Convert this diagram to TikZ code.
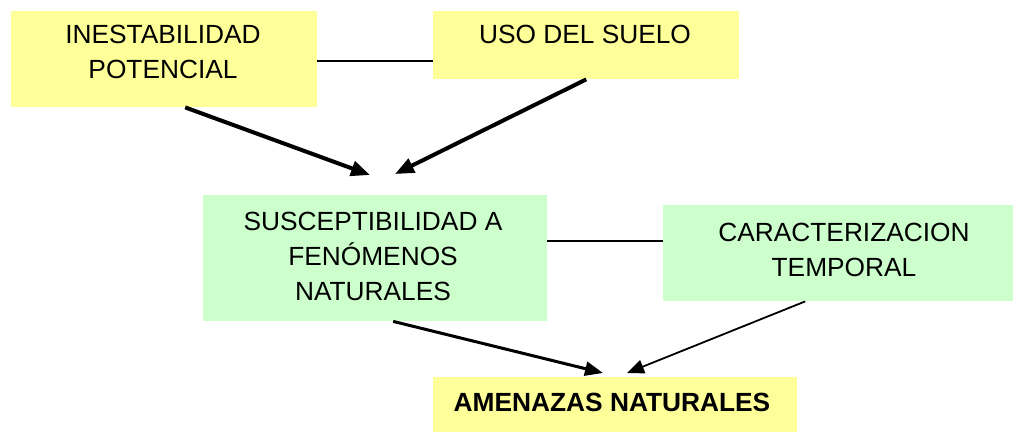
\documentclass[tikz,border=0pt]{standalone}
\usepackage{fontspec}
\setmainfont{Liberation Sans}
\usetikzlibrary{arrows.meta,calc}
\definecolor{yboxcol}{HTML}{FFFF99}
\definecolor{gboxcol}{HTML}{CCFFCC}
\begin{document}
\begin{tikzpicture}[x=1pt,y=1pt,
  yellowbox/.style={fill=yboxcol, draw=none, anchor=north west, inner sep=0pt},
  greenbox/.style={fill=gboxcol, draw=none, anchor=north west, inner sep=0pt},
  boxtext/.style={anchor=north, inner sep=0pt, align=center, font=\fontsize{26.3}{35}\selectfont},
  link/.style={line width=2pt},
  heavyarrow/.style={line width=4pt, -{Triangle[length=19pt,width=15pt]}},
  midarrow/.style={line width=3pt, -{Triangle[length=18pt,width=14pt]}},
  lightarrow/.style={line width=1.8pt, -{Triangle[length=17pt,width=14pt]}}
]
\useasboundingbox (0,0) rectangle (1014,-433);
\fill[white] (0,0) rectangle (1014,-433);

% boxes
\node[yellowbox, minimum width=306pt, minimum height=96pt] (ine) at (11,-11) {};
\node[yellowbox, minimum width=306pt, minimum height=68pt] (uso) at (433,-11) {};
\node[greenbox, minimum width=344pt, minimum height=126pt] (sus) at (203,-195) {};
\node[greenbox, minimum width=350pt, minimum height=96pt] (car) at (663,-205) {};
\node[yellowbox, minimum width=364pt, minimum height=55pt] (ame) at (433,-377) {};

% texts
\node[boxtext] (ineT) at (163,-25) {INESTABILIDAD\\POTENCIAL};
\node[boxtext] (usoT) at (585,-25) {USO DEL SUELO};
\node[boxtext] (susT) at (373,-212) {SUSCEPTIBILIDAD A\\FENÓMENOS\\NATURALES};
\node[boxtext] (carT) at (844,-223) {CARACTERIZACION\\TEMPORAL};
\node[boxtext, font=\fontsize{26.3}{35}\selectfont\bfseries] (ameT) at (612,-393) {AMENAZAS NATURALES};

% free ends of arrows
\coordinate (tipA) at (370,-175);
\coordinate (tipB) at (395,-174);
\coordinate (tipC) at (603,-373);
\coordinate (tipD) at (627,-373);

% connectors
\draw[link] ([yshift=-2pt]ine.east) -- ([yshift=-2pt]ine.east -| uso.west);
\draw[link] ([yshift=17pt]sus.east) -- ([yshift=17pt]sus.east -| car.west);
\draw[heavyarrow] ([xshift=21pt]ine.south) -- (tipA);
\draw[heavyarrow] (uso.south) -- (tipB);
\draw[midarrow] ([xshift=18pt]sus.south) -- (tipC);
\draw[lightarrow] ([xshift=-33pt]car.south) -- (tipD);
\end{tikzpicture}
\end{document}
